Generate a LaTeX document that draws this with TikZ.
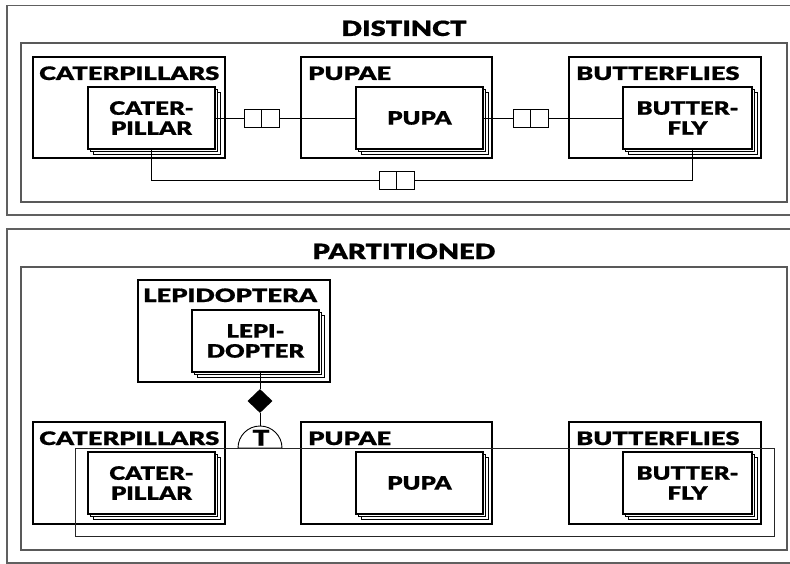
\documentclass[tikz,border=0pt]{standalone}
\usepackage{fontspec}
\setmainfont{Lato}[BoldFont={Lato Black}]
\newfontfamily\gillfont{Lato}[BoldFont={Lato Black}, FakeStretch=1.3, FakeBold=0.7]
\newfontfamily\gillwide{Lato}[BoldFont={Lato Black}, FakeStretch=1.38, FakeBold=0.7]
\usetikzlibrary{shapes.geometric}
\newcommand\entfont{\gillfont\bfseries\fontsize{18.5}{20}\selectfont}
\newcommand\labfont{\gillwide\bfseries\fontsize{18.5}{20}\selectfont}
\newcommand\titlefont{\gillfont\bfseries\fontsize{21}{24}\selectfont}
\newcommand\teefont{\gillfont\bfseries\fontsize{21.5}{22}\selectfont}
\newcommand\stackent[6]{%
  \draw[shadowrect] ({#2+5.5},{#3+5.5}) rectangle ({#4+5.5},{#5+5.5});
  \draw[shadowrect] ({#2+2.8},{#3+2.8}) rectangle ({#4+2.8},{#5+2.8});
  \node[front, minimum width={(#4-#2)*1pt}, minimum height={(#5-#3)*1pt}] (#1) at (#2,#3) {};
  \node[enttext] at (#1.center) {#6};
}
\begin{document}
\begin{tikzpicture}[x=1pt,y=-1pt,
  outerframe/.style={draw=gray!75!black, line width=1.6pt},
  innerframe/.style={draw=gray!70!black, line width=1.1pt},
  container/.style={draw=black, line width=2.4pt, fill=white, inner sep=0pt, outer sep=0pt, anchor=north west},
  front/.style={draw=black, line width=2.2pt, fill=white, inner sep=0pt, outer sep=0pt, anchor=north west},
  enttext/.style={align=center, font=\entfont, inner sep=0pt},
  shadowrect/.style={draw=black, line width=1pt, fill=white},
  link/.style={draw=black, line width=0.9pt},
  cbox/.style={draw=black, line width=0.9pt, fill=white, minimum width=17.5pt, minimum height=18pt, inner sep=0pt, outer sep=0pt},
  clabel/.style={anchor=base west, inner sep=0pt, font=\labfont},
  title/.style={font=\titlefont, inner sep=0pt, anchor=base},
  partrect/.style={draw=black!85, line width=0.8pt}
]
\useasboundingbox (0,0) rectangle (790,564);
% ---------------- DISTINCT ----------------
\draw[outerframe] (7,5.5) rectangle (800,215);
\draw[innerframe] (21,43) rectangle (787,202);
\node[title] (t1) at (404,36) {DISTINCT};
\node[container, minimum width=192pt, minimum height=101pt] (cats1) at (33,57) {};
\node[container, minimum width=191pt, minimum height=101pt] (pupae1) at (301,57) {};
\node[container, minimum width=192pt, minimum height=101pt] (butts1) at (569,57) {};
\node[clabel] (lc1) at (39,80) {CATERPILLARS};
\node[clabel] (lp1) at (308,80) {PUPAE};
\node[clabel] (lb1) at (576,80) {BUTTERFLIES};
\stackent{cat1}{88}{87}{215}{149}{CATER-\\PILLAR}
\stackent{pupa1}{356}{87}{483}{149}{PUPA}
\stackent{butt1}{623}{87}{752}{149}{BUTTER-\\FLY}
\draw[link] (cat1.east) -- (pupa1.west);
\draw[link] (pupa1.east) -- (butt1.west);
\node[cbox] (c1a) at (252.75,118) {};
\node[cbox] (c1b) at (270.25,118) {};
\node[cbox] (c2a) at (522,118) {};
\node[cbox] (c2b) at (539.5,118) {};
\draw[link] (cat1.south) |- (388,180) coordinate (c3in);
\draw[link] ([xshift=4.5pt]butt1.south) |- (405,180) coordinate (c3out);
\node[cbox] (c3a) at (388,180) {};
\node[cbox] (c3b) at (405.5,180) {};
% ---------------- PARTITIONED ----------------
\draw[outerframe] (7,229) rectangle (800,563);
\draw[innerframe] (21,267) rectangle (787,550);
\node[title] (t2) at (404,259) {PARTITIONED};
\node[container, minimum width=192pt, minimum height=102pt] (lepc) at (138,280) {};
\node[clabel] (ll) at (143,302) {LEPIDOPTERA};
\stackent{lep}{192}{310}{319}{372}{LEPI-\\DOPTER}
\node[container, minimum width=192pt, minimum height=102pt] (cats2) at (33,422) {};
\node[container, minimum width=191pt, minimum height=102pt] (pupae2) at (301,422) {};
\node[container, minimum width=192pt, minimum height=102pt] (butts2) at (569,422) {};
\node[clabel] (lc2) at (39,445) {CATERPILLARS};
\node[clabel] (lp2) at (308,445) {PUPAE};
\node[clabel] (lb2) at (576,445) {BUTTERFLIES};
\draw[partrect] (75,448) rectangle (774,536);
\node[diamond, fill=black, inner sep=0pt, minimum width=25pt, minimum height=24pt] (dia) at (260,401) {};
\coordinate (semitop) at (260,426);
\draw[link] (dia |- lep.south) -- (dia.north);
\draw[link] (dia.south) -- (semitop);
\draw[link, fill=white] (238,448) arc[start angle=180, end angle=0, radius=22pt] -- cycle;
\node[font=\teefont, inner sep=0pt, anchor=base] (tee) at (261,445.5) {T};
\stackent{cat2}{88}{452}{215}{514}{CATER-\\PILLAR}
\stackent{pupa2}{356}{452}{483}{514}{PUPA}
\stackent{butt2}{623}{452}{752}{514}{BUTTER-\\FLY}
\end{tikzpicture}
\end{document}
